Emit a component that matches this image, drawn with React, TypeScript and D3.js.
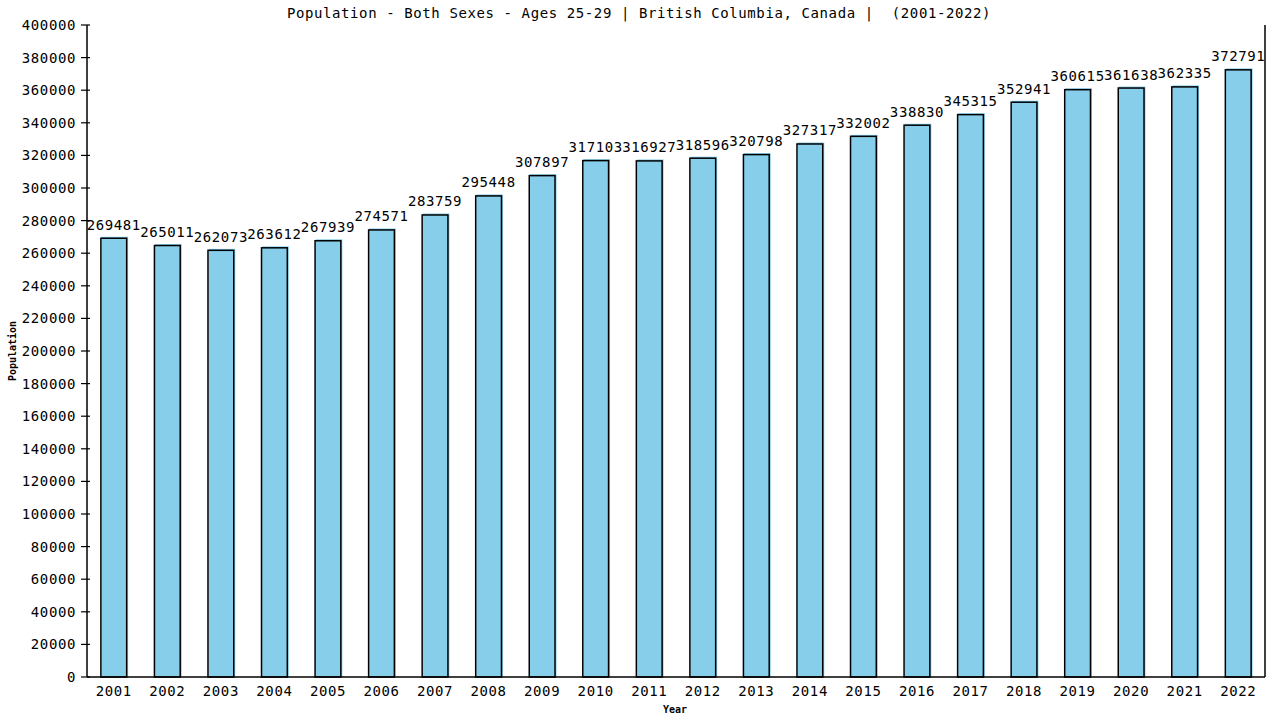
import React from "react";
import * as d3 from "d3";

const years = ["2001","2002","2003","2004","2005","2006","2007","2008","2009","2010","2011","2012","2013","2014","2015","2016","2017","2018","2019","2020","2021","2022"];
const population = [269481,265011,262073,263612,267939,274571,283759,295448,307897,317103,316927,318596,320798,327317,332002,338830,345315,352941,360615,361638,362335,372791];
const yTicks = d3.range(0, 400001, 20000);
const title = "Population - Both Sexes - Ages 25-29 | British Columbia, Canada |  (2001-2022)";

const W = 1280, H = 720;
const m = { left: 87, right: 1265, top: 25, bottom: 677 };
const font = "'DejaVu Sans Mono', monospace";

export default function App() {
  const x = d3.scaleBand().domain(years).range([m.left, m.right]).paddingInner(0.5).paddingOuter(0.25);
  const y = d3.scaleLinear().domain([0, 400000]).range([m.bottom, m.top]);
  const bw = x.bandwidth();
  return (
    <svg width={W} height={H} style={{ position: "fixed", left: 0, top: 0, background: "#fff" }}>
      <rect x={0} y={0} width={W} height={H} fill="#fff" />
      <text x={639} y={18} textAnchor="middle" fontFamily={font} fontSize={14} letterSpacing={0.6} style={{ whiteSpace: "pre" }}>{title}</text>
      {population.map((v, i) => {
        const bx = x(years[i])!;
        const by = y(v);
        return (
          <g key={years[i]}>
            <rect x={bx + 1} y={by - 1} width={bw} height={m.bottom - by + 1} fill="#87CEEB" />
            <rect x={bx + 0.5} y={by + 0.5} width={bw - 1} height={m.bottom - by - 0.5} fill="none" stroke="#000" strokeWidth={1.5} />
            <text x={bx + bw / 2} y={by - 8} textAnchor="middle" fontFamily={font} fontSize={14} letterSpacing={0.6}>{v}</text>
          </g>
        );
      })}
      <line x1={m.left} x2={m.left} y1={m.top} y2={m.bottom} stroke="#000" strokeWidth={1.5} />
      <line x1={m.right} x2={m.right} y1={m.top} y2={m.bottom} stroke="#000" strokeWidth={1.5} />
      <line x1={m.left} x2={m.right} y1={m.bottom} y2={m.bottom} stroke="#000" strokeWidth={1.5} />
      {yTicks.map(t => (
        <g key={t}>
          <line x1={m.left - 6} x2={m.left + 3} y1={y(t)} y2={y(t)} stroke="#000" strokeWidth={1.2} />
          <text x={76} y={y(t) + 5} textAnchor="end" fontFamily={font} fontSize={14} letterSpacing={0.6}>{t}</text>
        </g>
      ))}
      {years.map(yr => (
        <text key={yr} x={x(yr)! + bw / 2} y={696} textAnchor="middle" fontFamily={font} fontSize={14} letterSpacing={0.6}>{yr}</text>
      ))}
      <text x={675} y={713} textAnchor="middle" fontFamily={font} fontSize={10} fontWeight="bold">Year</text>
      <text transform={`translate(16,351) rotate(-90)`} textAnchor="middle" fontFamily={font} fontSize={10} fontWeight="bold">Population</text>
    </svg>
  );
}
